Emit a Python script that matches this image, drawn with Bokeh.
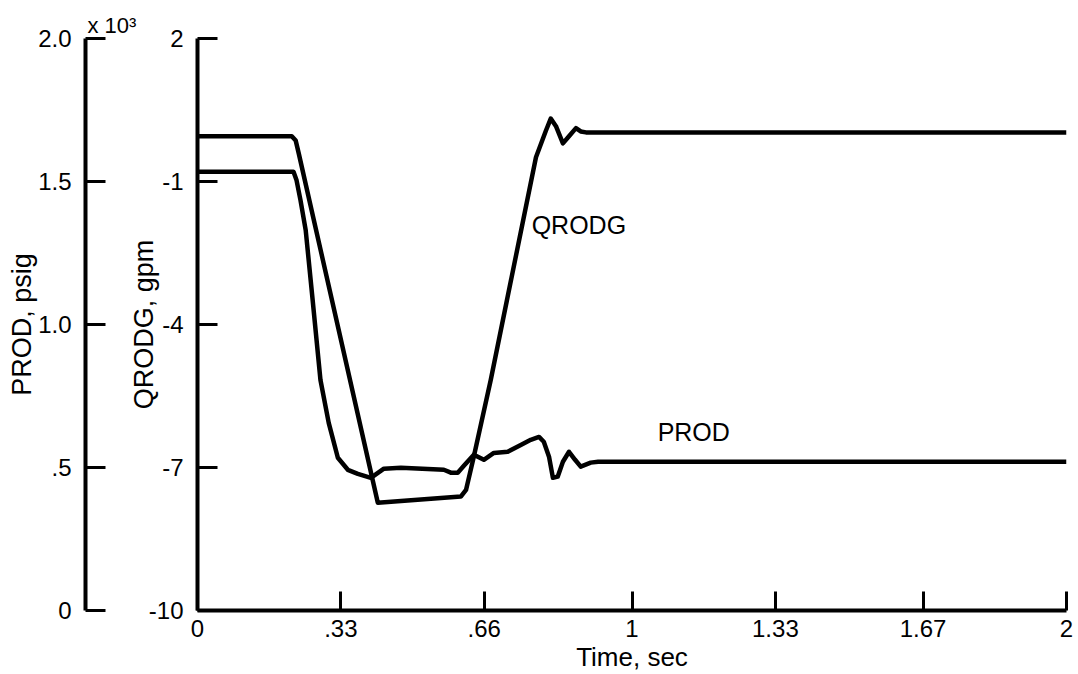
from bokeh.plotting import figure
from bokeh.models import Range1d, FixedTicker, Label, LinearAxis, Title
from bokeh.embed import file_html
from bokeh.resources import INLINE

# ---- data ----
qrodg_t = [0, 0.217, 0.226, 0.233, 0.415, 0.606, 0.618, 0.636, 0.675, 0.779, 0.802,
           0.813, 0.825, 0.841, 0.855, 0.871, 0.882, 0.894, 2.0]
qrodg_v = [-0.05, -0.05, -0.14, -0.41, -7.74, -7.61, -7.47, -6.77, -5.16, -0.49, 0.07,
           0.32, 0.16, -0.20, -0.05, 0.12, 0.05, 0.03, 0.03]

prod_t = [0, 0.221, 0.228, 0.237, 0.249, 0.265, 0.283, 0.302, 0.323, 0.346, 0.369,
          0.399, 0.429, 0.468, 0.567, 0.583, 0.599, 0.613, 0.636, 0.659, 0.682,
          0.714, 0.744, 0.767, 0.786, 0.797, 0.809, 0.818, 0.829, 0.841, 0.855,
          0.869, 0.882, 0.905, 0.922, 2.0]
prod_v = [1534, 1534, 1504, 1435, 1330, 1086, 806, 656, 534, 492, 478,
          464, 496, 499, 492, 482, 482, 506, 545, 527, 551,
          555, 579, 597, 607, 590, 538, 464, 468, 520, 555,
          527, 503, 517, 520, 520]

time_ticks = [0, 0.33, 0.66, 1, 1.33, 1.67, 2]
time_labels = ["0", ".33", ".66", "1", "1.33", "1.67", "2"]
qrodg_ticks = [-10, -7, -4, -1, 2]
qrodg_labels = ["-10", "-7", "-4", "-1", "2"]
prod_ticks = [0, 500, 1000, 1500, 2000]
prod_labels = ["0", ".5", "1.0", "1.5", "2.0"]

FONT = "Liberation Sans"

p = figure(width=1078, height=674, output_backend="svg", toolbar_location=None,
           x_range=Range1d(0, 2), y_range=Range1d(-10, 2),
           min_border_left=197, min_border_right=12, min_border_top=38, min_border_bottom=63)
p.extra_y_ranges = {"prod": Range1d(0, 2000)}
p.outline_line_color = None
p.grid.visible = False

p.xaxis.ticker = FixedTicker(ticks=time_ticks)
p.xaxis.major_label_overrides = {k: v for k, v in zip(time_ticks, time_labels)}
p.xaxis.axis_label = "Time, sec"
p.yaxis.ticker = FixedTicker(ticks=qrodg_ticks)
p.yaxis.major_label_overrides = {k: v for k, v in zip(qrodg_ticks, qrodg_labels)}
p.yaxis.axis_label = "QRODG, gpm"

# blank spacer axis between the two left axes (reserves room only)
spacer = LinearAxis(y_range_name="prod", ticker=FixedTicker(ticks=[2000]),
                    major_label_overrides={2000: " "},
                    axis_line_color=None, major_tick_in=0, major_tick_out=0,
                    major_tick_line_color=None, minor_tick_line_color=None,
                    major_label_standoff=30, major_label_text_font_size="24px",
                    major_label_text_font=FONT)
p.add_layout(spacer, "left")

ax = LinearAxis(y_range_name="prod", ticker=FixedTicker(ticks=prod_ticks),
                major_label_overrides={k: v for k, v in zip(prod_ticks, prod_labels)},
                axis_label="PROD, psig")
p.add_layout(ax, "left")

for a in [ax, p.xaxis[0], p.yaxis[0]]:
    a.axis_line_width = 4
    a.axis_line_color = "black"
    a.major_tick_line_width = 3
    a.major_tick_line_color = "black"
    a.major_tick_in = 20
    a.major_tick_out = 0
    a.minor_tick_line_color = None
    a.major_label_text_font = FONT
    a.major_label_text_font_size = "24px"
    a.major_label_text_color = "black"
    a.axis_label_text_font = FONT
    a.axis_label_text_font_size = "27px"
    a.axis_label_text_font_style = "normal"
    a.axis_label_text_color = "black"
    a.major_label_standoff = 14

p.xaxis.major_tick_in = 19
p.xaxis.major_label_standoff = 9
p.xaxis.axis_label_standoff = 2
p.xaxis.axis_label_text_font_size = "26px"
p.yaxis.axis_label_standoff = -13
ax.axis_label_standoff = -2

p.add_layout(Title(text="x 10³", align="left", offset=-110, standoff=1,
                   text_font=FONT, text_font_size="22px", text_font_style="normal",
                   text_color="black"), "above")

p.line(qrodg_t, qrodg_v, line_width=4.5, line_color="black", line_join="round")
p.line(prod_t, prod_v, y_range_name="prod", line_width=4.5, line_color="black", line_join="round")

p.add_layout(Label(x=0.769, y=-1.92, text="QRODG", text_font=FONT, text_font_size="25px",
                   text_align="left", text_baseline="middle", text_color="black"))
p.add_layout(Label(x=1.059, y=-6.25, text="PROD", text_font=FONT, text_font_size="25px",
                   text_align="left", text_baseline="middle", text_color="black"))

open("out.html", "w").write(file_html(p, INLINE))
